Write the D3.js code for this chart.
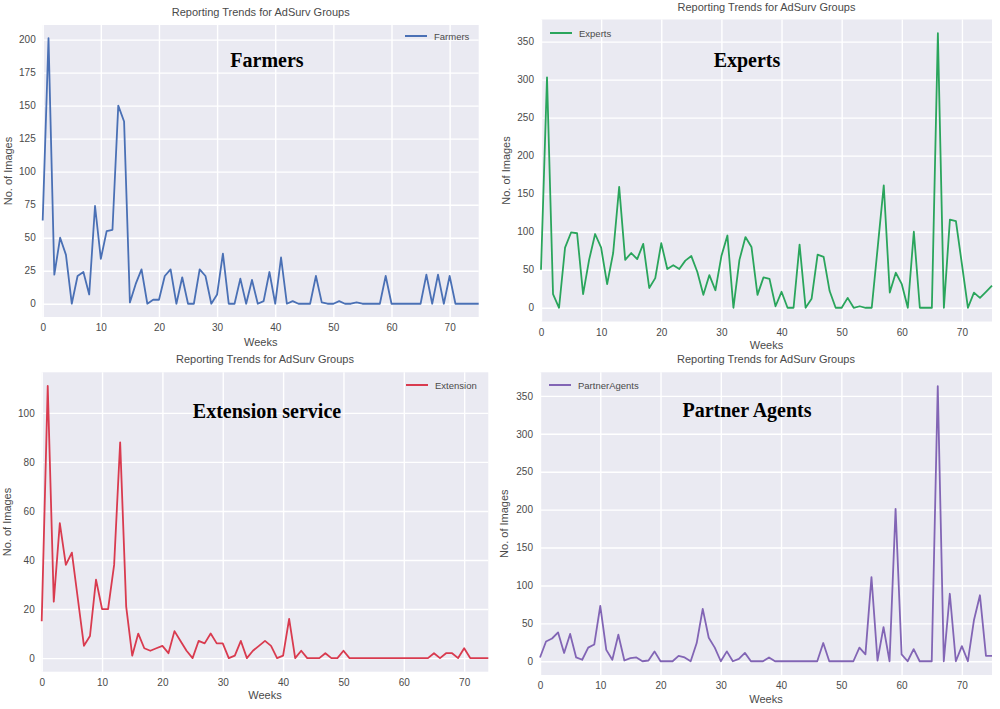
<!DOCTYPE html>
<html>
<head>
<meta charset="utf-8">
<script src="https://cdn.jsdelivr.net/npm/d3@7"></script>
<style>
  body { margin: 0; background: #fff; }
  svg { font-family: "Liberation Sans", Arial, sans-serif; }
</style>
</head>
<body>
<script>
// weekly image counts per group
const farmers = [63,201,22,50,37,0,21,24,7,74, 34,55,56,150,138,1,15,26,0,3,
  3,21,26,0,20,0,0,26,21,0, 7,38,0,0,19,0,18,0,2,24, 0,35,0,2,0,0,0,21,1,0,
  0,2,0,0,1,0,0,0,0,21, 0,0,0,0,0,0,22,0,22,0, 21,0,0,0,0,0];
const experts = [50,303,18,0,79,99,98,18,63,97, 79,31,72,159,63,72,64,84,26,39,
  85,51,56,51,62,68,47,17,43,23, 68,95,0,63,93,80,17,40,38,2, 21,0,0,83,0,12,70,67,22,0,
  0,13,0,2,0,0,80,161,20,46, 31,0,100,0,0,0,361,0,116,114, 57,0,20,13,21,29];
const extension = [15,111,23,55,38,43,24,5,9,32, 20,20,38,88,21,1,10,4,3,4,
  5,2,11,7,3,0,7,6,10,6, 6,0,1,7,0,3,5,7,5,0, 1,16,0,3,0,0,0,2,0,0,
  3,0,0,0,0,0,0,0,0,0, 0,0,0,0,0,2,0,2,2,0, 4,0,0,0,0];
const partnerAgents = [5,26,30,38,11,36,5,2,18,22, 73,15,2,35,1,4,5,0,1,13,
  0,0,0,7,5,0,24,69,31,18, 0,13,0,3,11,0,0,0,5,0, 0,0,0,0,0,0,0,24,0,0,
  0,0,0,18,9,111,1,45,0,201, 9,0,16,0,0,0,363,0,89,0, 20,0,54,87,7,7];

const xTicks = [0, 10, 20, 30, 40, 50, 60, 70];
const farmersTicks = [0, 25, 50, 75, 100, 125, 150, 175, 200];
const expertsTicks = [0, 50, 100, 150, 200, 250, 300, 350];
const extensionTicks = [0, 20, 40, 60, 80, 100];
const partnerTicks = [0, 50, 100, 150, 200, 250, 300, 350];

const chartTitle = "Reporting Trends for AdSurv Groups";

const svg = d3.select("body").append("svg")
    .attr("width", 1000)
    .attr("height", 709);

function drawPanel(p) {
    const x = d3.scaleLinear().domain([0, p.data.length - 1]).range([p.left, p.right]);
    const maxV = d3.max(p.data), pad = maxV * 0.05;
    const y = d3.scaleLinear().domain([-pad, maxV + pad]).range([p.bottom, p.top]);

    const g = svg.append("g");

    g.append("rect")
        .attr("x", p.left).attr("y", p.top)
        .attr("width", p.right - p.left).attr("height", p.bottom - p.top)
        .attr("fill", "#EAEAF2");

    // grid
    const xAxis = d3.axisBottom(x).tickValues(xTicks).tickSize(-(p.bottom - p.top)).tickPadding(p.xPad);
    const yAxis = d3.axisLeft(y).tickValues(p.yTicks).tickSize(-(p.right - p.left)).tickPadding(7);

    const gx = g.append("g").attr("transform", "translate(0," + p.bottom + ")").call(xAxis);
    const gy = g.append("g").attr("transform", "translate(" + p.left + ",0)").call(yAxis);
    [gx, gy].forEach(a => {
        a.select(".domain").remove();
        a.selectAll("line").attr("stroke", "#fff").attr("stroke-width", 1.4);
        a.selectAll("text").attr("fill", "#4a4a4a").style("font-size", "10px");
    });

    const line = d3.line().x((d, i) => x(i)).y(d => y(d));
    g.append("path")
        .datum(p.data)
        .attr("d", line)
        .attr("fill", "none")
        .attr("stroke", p.color)
        .attr("stroke-width", 1.8)
        .attr("stroke-linejoin", "round");

    const cx = (p.left + p.right) / 2;
    g.append("text")
        .attr("x", cx).attr("y", p.top - 9)
        .attr("text-anchor", "middle")
        .attr("fill", "#4a4a4a")
        .style("font-size", "11px")
        .text(chartTitle);

    g.append("text")
        .attr("x", cx).attr("y", p.weeksY)
        .attr("text-anchor", "middle")
        .attr("fill", "#4a4a4a")
        .style("font-size", "11px")
        .text("Weeks");

    g.append("text")
        .attr("transform", "translate(" + p.ylabX + "," + ((p.top + p.bottom) / 2) + ") rotate(-90)")
        .attr("text-anchor", "middle")
        .attr("fill", "#4a4a4a")
        .style("font-size", "11px")
        .text("No. of Images");

    // legend
    g.append("line")
        .attr("x1", p.legX).attr("x2", p.legX + 22)
        .attr("y1", p.legY).attr("y2", p.legY)
        .attr("stroke", p.color).attr("stroke-width", 2);
    g.append("text")
        .attr("x", p.legX + 29).attr("y", p.legY + 3.5)
        .attr("fill", "#4a4a4a")
        .style("font-size", "9.5px")
        .text(p.name);

    // big label
    g.append("text")
        .attr("x", p.bigX).attr("y", p.bigY)
        .attr("text-anchor", "middle")
        .attr("fill", "#000")
        .style("font-family", "'Liberation Serif', 'Times New Roman', serif")
        .style("font-weight", "bold")
        .style("font-size", "20px")
        .text(p.label);
}

drawPanel({ data: farmers, name: "Farmers", label: "Farmers", color: "#4A70B5",
    left: 42.7, right: 478.7, top: 25, bottom: 317, yTicks: farmersTicks, xPad: 7,
    weeksY: 346, ylabX: 12, legX: 405, legY: 36, bigX: 267, bigY: 67 });
drawPanel({ data: experts, name: "Experts", label: "Experts", color: "#2AA55C",
    left: 541, right: 992, top: 19.5, bottom: 321.5, yTicks: expertsTicks, xPad: 7,
    weeksY: 349, ylabX: 510, legX: 550, legY: 33, bigX: 747, bigY: 67 });
drawPanel({ data: extension, name: "Extension", label: "Extension service", color: "#D93B4F",
    left: 41.7, right: 488.3, top: 372.3, bottom: 671.7, yTicks: extensionTicks, xPad: 7,
    weeksY: 699, ylabX: 11, legX: 406, legY: 385, bigX: 267, bigY: 418 });
drawPanel({ data: partnerAgents, name: "PartnerAgents", label: "Partner Agents", color: "#8265B5",
    left: 540, right: 992, top: 372.3, bottom: 675, yTicks: partnerTicks, xPad: 7,
    weeksY: 703, ylabX: 508, legX: 549, legY: 385, bigX: 747, bigY: 417 });
</script>
</body>
</html>
